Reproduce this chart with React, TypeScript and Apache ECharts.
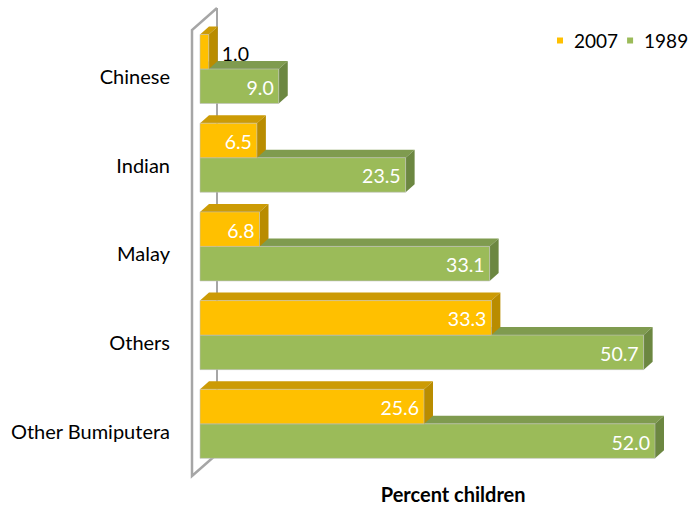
import React, { useEffect, useRef } from "react";
import * as echarts from "echarts";

const categories = ["Chinese", "Indian", "Malay", "Others", "Other Bumiputera"];
const seriesNames = ["2007", "1989"];
const values2007 = [1.0, 6.5, 6.8, 33.3, 25.6];
const values1989 = [9.0, 23.5, 33.1, 50.7, 52.0];
const axisTitle = "Percent children";

const FONT = "Lato, 'Open Sans', sans-serif";
const FRONT = ["#FFC000", "#9BBB59"];
const TOPC = ["#CC9B05", "#7F9B4F"];
const SIDE = ["#B98C00", "#6C8741"];
const DX = 9;
const DY = -8;
const BAR_RATIO = 0.389;

function makeRender(si: number) {
  return (params: any, api: any) => {
    const val = api.value(0) as number;
    const idx = api.value(1) as number;
    const p0 = api.coord([0, idx]);
    const p1 = api.coord([val, idx]);
    const band = api.size([0, 1])[1];
    const h = band * BAR_RATIO;
    const yc = p0[1];
    const top = si === 0 ? yc - h : yc;
    const bot = top + h;
    const x0 = p0[0];
    const x1 = p1[0];
    const label = val.toFixed(1);
    const inside = x1 - x0 > 30;
    return {
      type: "group",
      children: [
        {
          type: "polygon",
          shape: { points: [[x0, top], [x0 + DX, top + DY], [x1 + DX, top + DY], [x1, top]] },
          style: { fill: TOPC[si] },
        },
        {
          type: "polygon",
          shape: { points: [[x1, top], [x1 + DX, top + DY], [x1 + DX, bot + DY], [x1, bot]] },
          style: { fill: SIDE[si] },
        },
        {
          type: "rect",
          shape: { x: x0, y: top, width: x1 - x0, height: h },
          style: { fill: FRONT[si], stroke: "rgba(190,190,190,0.6)", lineWidth: 1 },
        },
        {
          type: "text",
          x: inside ? x1 - 5 : x1 + DX + 4,
          y: inside ? (top + bot) / 2 + 1 : (top + bot) / 2 + 2,
          style: {
            text: label,
            fill: inside ? "#FFFFFF" : "#000000",
            fontSize: 19.5,
            fontFamily: FONT,
            align: inside ? "right" : "left",
            verticalAlign: "middle",
          },
        },
      ],
    };
  };
}

export default function App() {
  const ref = useRef<HTMLDivElement>(null);
  useEffect(() => {
    document.body.style.margin = "0";
    if (!ref.current) return;
    const chart = echarts.init(ref.current, null, { renderer: "svg" });
    const gridLeft = 200;
    const gridTop = 24.6;
    const gridH = 443.6;
    const gridW = 481.25;
    chart.setOption({
      animation: false,
      textStyle: { fontFamily: FONT },
      legend: {
        data: seriesNames,
        left: 552,
        top: 26,
        itemWidth: 18,
        itemHeight: 6,
        itemGap: 9,
        icon: "path://M0 0H1V1H0Z",
        textStyle: { fontSize: 19, fontFamily: FONT, color: "#000" },
      },
      grid: {
        left: gridLeft,
        top: gridTop,
        width: gridW,
        height: gridH,
        containLabel: false,
        outerBoundsMode: "none",
      },
      xAxis: {
        type: "value",
        min: 0,
        max: 55,
        axisLine: { show: false },
        axisTick: { show: false },
        axisLabel: { show: false },
        splitLine: { show: false },
        name: axisTitle,
        nameLocation: "middle",
        nameGap: 16,
        nameTextStyle: {
          fontSize: 20,
          fontWeight: "bold",
          fontFamily: FONT,
          color: "#000",
          padding: [0, 0, 0, 25],
        },
      },
      yAxis: {
        type: "category",
        inverse: true,
        data: categories,
        axisLine: { show: false },
        axisTick: { show: false },
        axisLabel: {
          margin: 30,
          fontSize: 20,
          fontFamily: FONT,
          color: "#000",
          verticalAlign: "top",
          lineHeight: 14,
        },
      },
      graphic: [
        {
          type: "polyline",
          z: 0,
          shape: {
            points: [
              [217, 8],
              [192, 30],
              [192, 476],
              [217, 454],
            ],
          },
          style: { stroke: "#A6A6A6", lineWidth: 2.5, fill: "none" },
        },
        {
          type: "line",
          z: 0,
          shape: { x1: 217, y1: 8, x2: 217, y2: 454 },
          style: { stroke: "#A6A6A6", lineWidth: 2 },
        },
      ],
      series: [
        {
          name: seriesNames[0],
          type: "custom",
          z: 4,
          itemStyle: { color: FRONT[0] },
          renderItem: makeRender(0),
          encode: { x: 0, y: 1 },
          data: values2007.map((v, i) => [v, i]),
        },
        {
          name: seriesNames[1],
          type: "custom",
          z: 3,
          itemStyle: { color: FRONT[1] },
          renderItem: makeRender(1),
          encode: { x: 0, y: 1 },
          data: values1989.map((v, i) => [v, i]),
        },
      ],
    });
    return () => chart.dispose();
  }, []);
  return <div ref={ref} style={{ width: 699, height: 505 }} />;
}
